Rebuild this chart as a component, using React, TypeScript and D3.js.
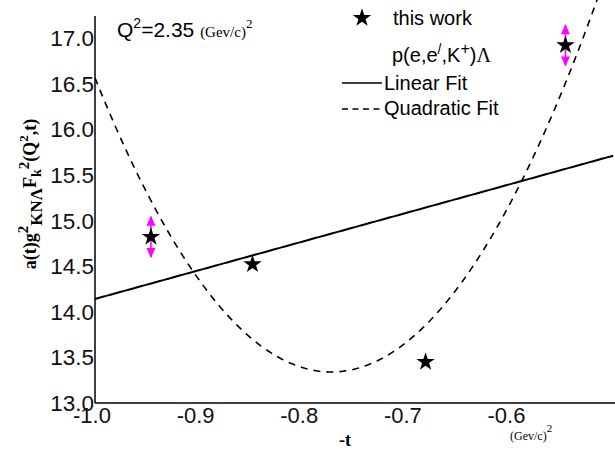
import React from "react";
import * as d3 from "d3";

const W = 615;
const H = 451;

// data
const tValues = [-0.946, -0.848, -0.681, -0.546];
const yValues = [14.82, 14.52, 13.45, 16.92];
const yErrors = [0.22, 0, 0, 0.22];

const xTicks = [-1.0, -0.9, -0.8, -0.7, -0.6];
const yTicks = [13.0, 13.5, 14.0, 14.5, 15.0, 15.5, 16.0, 16.5, 17.0];

// fit coefficients
const linearCoef = [17.28, 3.14]; // y = c0 + c1 * x
const quadCoef = [13.34, -0.772, 62]; // y = k + a (x - h)^2  -> [k, h, a]

const xDomain = [-1.0, -0.6];
const yDomain = [13.0, 17.0];

export default function App() {
  const x = d3.scaleLinear().domain(xDomain).range([95, 509.5]);
  const y = d3.scaleLinear().domain(yDomain).range([403, 38]);

  const xs = d3.range(-1.0, -0.4999, 0.0025);
  const lin = d3
    .line<number>()
    .x((d) => x(d))
    .y((d) => y(linearCoef[0] + linearCoef[1] * d));
  const quad = d3
    .line<number>()
    .x((d) => x(d))
    .y((d) => y(quadCoef[0] + quadCoef[2] * (d - quadCoef[1]) ** 2));

  const star = d3.symbol().type(d3.symbolStar).size(105)() as string;

  const sans = "Arial, 'Liberation Sans', Helvetica, sans-serif";
  const serif = "'Times New Roman', 'Liberation Serif', serif";

  return (
    <svg
      width={W}
      height={H}
      style={{ position: "absolute", left: 0, top: 0, background: "#fff" }}
    >
      <defs>
        <clipPath id="plotclip">
          <rect x={95} y={0} width={W - 95} height={403} />
        </clipPath>
        <marker
          id="arr"
          viewBox="0 0 10 10"
          refX="9"
          refY="5"
          markerWidth="11"
          markerHeight="10"
          markerUnits="userSpaceOnUse"
          orient="auto-start-reverse"
        >
          <path d="M0,0.5 L10,5 L0,9.5 z" fill="#ff00ff" />
        </marker>
      </defs>
      <rect x={0} y={0} width={W} height={H} fill="#fff" />

      {/* axes */}
      <line x1={95} y1={16} x2={95} y2={403} stroke="#000" strokeWidth={1.5} />
      <line x1={95} y1={403} x2={W} y2={403} stroke="#000" strokeWidth={1.5} />

      {/* y tick labels */}
      {yTicks.map((t) => (
        <text
          key={"y" + t}
          x={94}
          y={y(t) + 8}
          textAnchor="end"
          fontFamily={sans}
          fontSize={22.5}
          fill="#111"
        >
          {t.toFixed(1)}
        </text>
      ))}
      {/* x tick labels */}
      {xTicks.map((t) => (
        <text
          key={"x" + t}
          x={x(t) - 3}
          y={423}
          textAnchor="middle"
          fontFamily={sans}
          fontSize={22}
          fill="#111"
        >
          {t.toFixed(1)}
        </text>
      ))}

      {/* fits */}
      <g clipPath="url(#plotclip)">
        <path d={lin(xs) || ""} fill="none" stroke="#000" strokeWidth={2} />
        <path
          d={quad(xs) || ""}
          fill="none"
          stroke="#000"
          strokeWidth={1.6}
          strokeDasharray="7,6"
        />
      </g>

      {/* error bars */}
      {tValues.map((t, i) =>
        yErrors[i] > 0 ? (
          <g key={"e" + i}>
            <line
              x1={x(t)}
              x2={x(t)}
              y1={y(yValues[i])}
              y2={y(yValues[i] + yErrors[i])}
              stroke="#ff00ff"
              strokeWidth={1.6}
              markerEnd="url(#arr)"
            />
            <line
              x1={x(t)}
              x2={x(t)}
              y1={y(yValues[i])}
              y2={y(yValues[i] - yErrors[i])}
              stroke="#ff00ff"
              strokeWidth={1.6}
              markerEnd="url(#arr)"
            />
          </g>
        ) : null
      )}

      {/* points */}
      {tValues.map((t, i) => (
        <path
          key={"p" + i}
          d={star}
          transform={`translate(${x(t)},${y(yValues[i])})`}
          fill="#000"
        />
      ))}

      {/* Q2 annotation */}
      <text x={117} y={37} fontFamily={sans} fontSize={21} fill="#000">
        Q<tspan dy={-9} fontSize={14}>2</tspan>
        <tspan dy={9}>=2.35 </tspan>
        <tspan fontFamily={serif} fontSize={15}>(Gev/c)</tspan>
        <tspan dy={-9} fontFamily={serif} fontSize={13}>2</tspan>
      </text>

      {/* legend */}
      <path d={star} transform="translate(362,18)" fill="#000" />
      <text x={393} y={25} fontFamily={sans} fontSize={20} fill="#000">
        this work
      </text>
      <text x={392} y={62} fontFamily={sans} fontSize={20} fill="#000">
        p(e,e<tspan dy={-8} fontSize={14}>/</tspan>
        <tspan dy={8}>,K</tspan>
        <tspan dy={-8} fontSize={16}>+</tspan>
        <tspan dy={8}>)</tspan>
        <tspan fontFamily={serif}>Λ</tspan>
      </text>
      <line x1={342} y1={83} x2={382} y2={83} stroke="#000" strokeWidth={1.6} />
      <text x={384} y={90} fontFamily={sans} fontSize={20} fill="#000">
        Linear Fit
      </text>
      <line
        x1={342}
        y1={109}
        x2={382}
        y2={109}
        stroke="#000"
        strokeWidth={1.4}
        strokeDasharray="6,4.5"
      />
      <text x={384} y={115} fontFamily={sans} fontSize={20} fill="#000">
        Quadratic Fit
      </text>

      {/* x axis title */}
      <text
        x={345}
        y={446}
        textAnchor="middle"
        fontFamily={serif}
        fontWeight="bold"
        fontSize={18}
        fill="#000"
      >
        -t
      </text>
      <text x={510} y={440} fontFamily={serif} fontSize={12} fill="#000">
        (Gev/c)<tspan dy={-8} fontSize={11}>2</tspan>
      </text>

      {/* y axis title */}
      <text
        transform="translate(36,194) rotate(-90)"
        textAnchor="middle"
        fontFamily={serif}
        fontWeight="bold"
        fontSize={18}
        fill="#000"
      >
        a(t)g<tspan dy={-8} fontSize={15}>2</tspan>
        <tspan dy={14} fontSize={17}>KNΛ</tspan>
        <tspan dy={-6}>F</tspan>
        <tspan dy={5} fontSize={14}>k</tspan>
        <tspan dy={-12} fontSize={15}>2</tspan>
        <tspan dy={7}>(Q</tspan>
        <tspan dy={-8} fontSize={13}>2</tspan>
        <tspan dy={8}>,t)</tspan>
      </text>
    </svg>
  );
}
